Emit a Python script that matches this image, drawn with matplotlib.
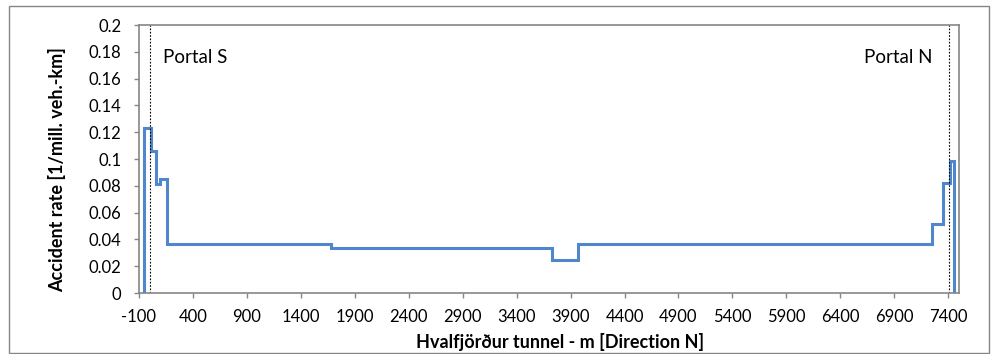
import numpy as np
import matplotlib.pyplot as plt
from matplotlib.patches import Rectangle

plt.rcParams['font.family'] = ['Lato', 'DejaVu Sans']

# step profile of accident rate along the tunnel (m, rate)
dist = [-55, -55, 10, 10, 55, 55, 95, 95, 157, 157, 1680, 1680,
        3730, 3730, 3970, 3970, 7252, 7252, 7355, 7355, 7415, 7415, 7455, 7455]
rate = [0, 0.123, 0.123, 0.106, 0.106, 0.081, 0.081, 0.085, 0.085, 0.0363,
        0.0363, 0.0334, 0.0334, 0.0244, 0.0244, 0.0363, 0.0363, 0.0513,
        0.0513, 0.0818, 0.0818, 0.0987, 0.0987, 0]

portal_x = [0, 7405]
portal_labels = ['Portal S', 'Portal N']
xticks = np.arange(-100, 7401, 500)
yticks = np.arange(0, 0.2001, 0.02)

fig = plt.figure(figsize=(9.94, 3.54), dpi=100)
ax = fig.add_axes([139/994, 1 - 293/354, (959-139)/994, (293-25)/354])

ax.plot(dist, rate, color='#4F86CC', lw=2.2, solid_joinstyle='miter')
for px in portal_x:
    ax.axvline(px, color='black', lw=0.8, ls=(0, (1.5, 1.5)))

ax.text(125, 0.176, portal_labels[0], fontsize=13.5, va='center', ha='left')
ax.text(7255, 0.176, portal_labels[1], fontsize=13.5, va='center', ha='right')

ax.set_xlim(-100, 7500)
ax.set_ylim(0, 0.2)
ax.set_xticks(xticks)
ax.set_xticklabels([str(v) for v in xticks])
ax.set_yticks(yticks)
ax.set_yticklabels(['0'] + ['%g' % round(v, 2) for v in yticks[1:]])
ax.tick_params(labelsize=12, length=3.6, width=1, color='#868686')
ax.tick_params(axis='y', pad=9)
ax.tick_params(axis='x', pad=8)
for s in ax.spines.values():
    s.set_color('#868686')
    s.set_linewidth(1.2)

ax.set_xlabel('Hvalfjörður tunnel - m [Direction N]', fontsize=13, fontweight='bold', va='center')
ax.xaxis.set_label_coords((560 - 139) / 820, (293 - 342) / 268)
ax.set_ylabel('Accident rate [1/mill. veh.-km]', fontsize=13, fontweight='bold', va='center')
ax.yaxis.set_label_coords((57 - 139) / 820, (293 - 170) / 268)

fig.patches.append(Rectangle((9/994, 0.002), (989-9)/994, 1 - 6/354 - 0.002,
                             transform=fig.transFigure, fill=False,
                             edgecolor='#868686', lw=1))

fig.savefig('out.png', dpi=100)
